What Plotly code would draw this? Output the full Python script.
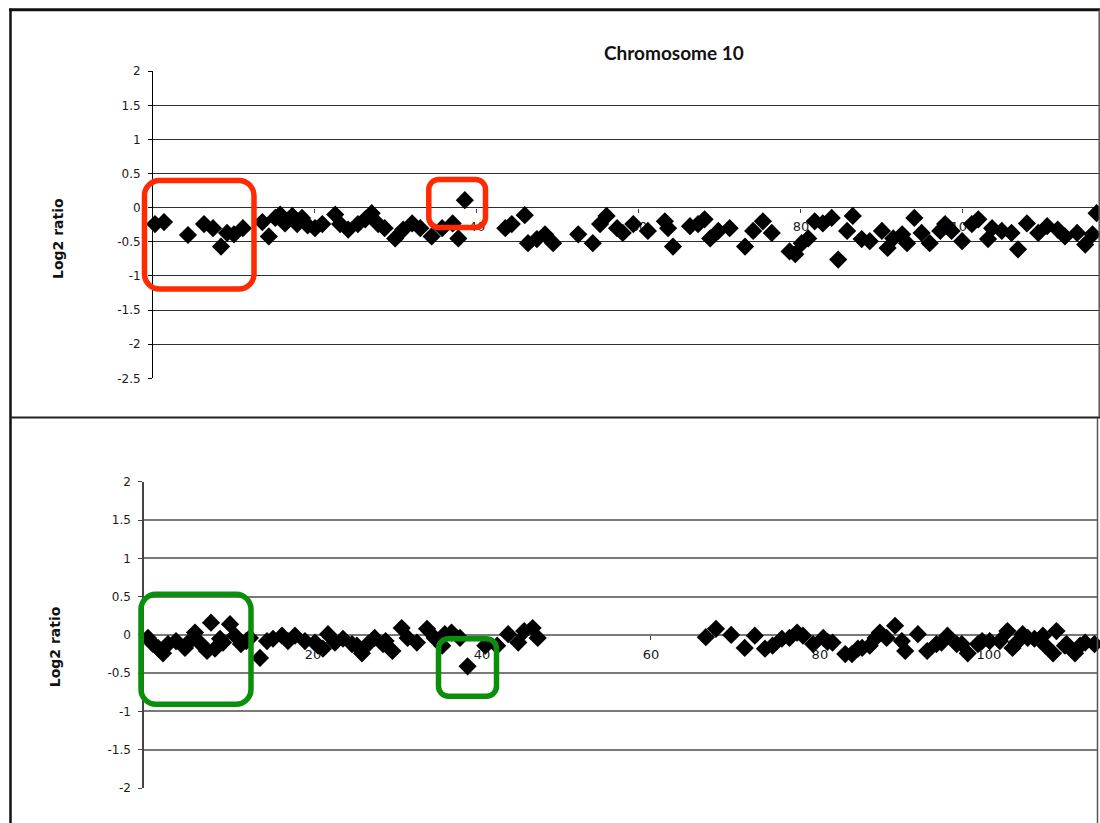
import plotly.graph_objects as go

W, H = 1100, 823

chart_title = "Chromosome 10"
y_title = "Log2 ratio"
x_tick_vals = [20, 40, 60, 80, 100]
x_tick_text = ["20", "40", "60", "80", "100"]
top_y_ticks = [2, 1.5, 1, 0.5, 0, -0.5, -1, -1.5, -2, -2.5]
bottom_y_ticks = [2, 1.5, 1, 0.5, 0, -0.5, -1, -1.5, -2]

# top panel (sample 1)
top_pos = [0.25, 1.36, 4.32, 6.30, 7.41, 8.40, 9.14, 10.0, 11.1, 13.5,
           14.3, 15.1, 15.7, 16.3, 17.2, 17.8, 18.4, 19.1, 20.0, 20.9,
           22.5, 23.1, 24.1, 25.3, 26.2, 27.0, 27.8, 28.6, 29.9, 30.9,
           32.0, 33.0, 34.4, 35.7, 37.0, 37.7, 38.5, 43.5, 44.3, 45.9,
           46.3, 47.4, 48.4, 49.4, 52.5, 54.3, 55.2, 56.0, 57.3, 58.0,
           59.3, 61.1, 63.2, 63.6, 64.2, 66.3, 67.3, 68.1, 68.8, 69.8,
           71.2, 73.1, 74.1, 75.3, 76.4, 78.6, 79.3, 80.1, 80.9, 81.7,
           82.7, 83.8, 84.6, 85.7, 86.4, 87.5, 88.5, 90.0, 90.7, 91.4,
           92.5, 93.1, 94.0, 94.9, 95.9, 97.2, 97.8, 98.6, 99.9, 101.1,
           101.9, 103.1, 103.6, 104.8, 106.0, 106.8, 107.9, 109.3, 110.4, 111.7,
           112.6, 114.1, 115.1, 116.0, 116.5]
top_val = [-0.24, -0.21, -0.40, -0.24, -0.30, -0.57, -0.37, -0.39, -0.30, -0.21,
           -0.42, -0.15, -0.10, -0.23, -0.12, -0.24, -0.15, -0.26, -0.30, -0.24,
           -0.10, -0.24, -0.32, -0.24, -0.17, -0.08, -0.24, -0.30, -0.45, -0.32,
           -0.23, -0.30, -0.42, -0.30, -0.23, -0.45, 0.11, -0.30, -0.24, -0.11,
           -0.52, -0.46, -0.39, -0.52, -0.39, -0.52, -0.24, -0.12, -0.30, -0.37,
           -0.24, -0.34, -0.20, -0.30, -0.57, -0.27, -0.24, -0.17, -0.45, -0.34,
           -0.30, -0.57, -0.34, -0.20, -0.37, -0.64, -0.68, -0.52, -0.45, -0.20,
           -0.23, -0.15, -0.76, -0.34, -0.12, -0.46, -0.49, -0.34, -0.59, -0.45,
           -0.39, -0.52, -0.15, -0.37, -0.52, -0.34, -0.24, -0.34, -0.49, -0.24,
           -0.17, -0.46, -0.30, -0.34, -0.37, -0.61, -0.23, -0.37, -0.27, -0.32,
           -0.42, -0.37, -0.54, -0.39, -0.08]

# bottom panel (sample 2)
bottom_pos = [-0.36, 0.47, 1.07, 1.66, 2.25, 2.84, 3.79, 4.85, 5.44, 6.04,
              6.75, 7.46, 7.93, 8.40, 9.0, 9.35, 10.18, 10.77, 11.48, 12.1,
              12.54, 13.73, 14.56, 15.27, 16.33, 17.04, 17.87, 19.05, 20.24, 20.6,
              21.18, 21.78, 22.60, 23.55, 24.62, 25.2, 25.8, 26.5, 27.3, 28.3,
              28.6, 29.4, 30.5, 31.2, 32.3, 33.5, 34.4, 35.3, 35.6, 36.4,
              37.4, 38.3, 40.4, 41.8, 43.1, 44.3, 45.0, 46.0, 46.6, 66.5,
              67.7, 69.5, 71.1, 72.3, 73.5, 74.4, 75.5, 76.4, 77.3, 78.0,
              79.2, 80.4, 80.9, 81.5, 83.0, 83.8, 84.5, 85.0, 85.9, 86.6,
              87.1, 87.9, 88.9, 89.7, 90.1, 91.6, 92.7, 93.8, 94.4, 95.1,
              96.2, 96.8, 97.5, 98.7, 99.2, 100.1, 101.3, 102.2, 102.8, 103.3,
              104.0, 104.6, 105.4, 106.4, 106.7, 107.6, 108.0, 109.0, 109.2, 110.2,
              110.8, 111.4, 112.5, 112.9]
bottom_val = [-0.09, -0.04, -0.12, -0.17, -0.24, -0.12, -0.08, -0.17, -0.08, 0.03,
              -0.12, -0.21, 0.16, -0.18, -0.05, -0.10, 0.14, -0.01, -0.12, -0.08,
              -0.04, -0.30, -0.08, -0.05, -0.01, -0.08, -0.01, -0.08, -0.10, -0.14,
              -0.18, 0.01, -0.10, -0.05, -0.12, -0.14, -0.24, -0.12, -0.04, -0.12,
              -0.08, -0.21, 0.09, -0.04, -0.10, 0.08, -0.04, -0.14, 0.01, 0.03,
              -0.04, -0.41, -0.14, -0.14, 0.01, -0.10, 0.05, 0.09, -0.04, -0.03,
              0.08, 0.00, -0.17, -0.01, -0.18, -0.14, -0.05, -0.04, 0.03, -0.01,
              -0.12, -0.04, -0.09, -0.10, -0.25, -0.25, -0.18, -0.17, -0.14, -0.04,
              0.03, -0.04, 0.12, -0.08, -0.21, 0.01, -0.21, -0.12, -0.10, -0.01,
              -0.12, -0.12, -0.24, -0.12, -0.08, -0.08, -0.08, 0.05, -0.17, -0.10,
              0.01, -0.04, -0.05, -0.01, -0.14, -0.24, 0.05, -0.14, -0.12, -0.24,
              -0.14, -0.10, -0.12, -0.14]

# vertical correction measured from the rendered photo
V_OFF, V_SCALE = 6.16, 0.9824


def fx(x):
    return x / W


def fy(y):
    yd = (y - V_OFF) / V_SCALE
    return 1 - yd / H


def fmt(v):
    return "%g" % v


# panel geometry (pixels in the target picture)
top_xdom = [fx(153), fx(1099)]
top_ydom = [fy(377.3), fy(70.3)]
top_xrange = [0, 116.8]
top_yrange = [-2.5, 2]
bot_xdom = [fx(144), fx(1097)]
bot_ydom = [fy(786.7), fy(480.7)]
bot_xrange = [0, 112.8]
bot_yrange = [-2, 2]


def zero_pos(dom, rng):
    return dom[0] + (0 - rng[0]) / (rng[1] - rng[0]) * (dom[1] - dom[0])


marker = dict(symbol="diamond", size=14, color="black", line=dict(width=0))

fig = go.Figure()
fig.add_trace(go.Scatter(x=top_pos, y=top_val, mode="markers", marker=marker,
                         xaxis="x", yaxis="y", cliponaxis=False, showlegend=False,
                         hoverinfo="x+y"))
fig.add_trace(go.Scatter(x=bottom_pos, y=bottom_val, mode="markers", marker=marker,
                         xaxis="x2", yaxis="y2", cliponaxis=False, showlegend=False,
                         hoverinfo="x+y"))

tick_font = dict(family="DejaVu Sans, Verdana, sans-serif", size=12, color="#1a1a1a")
xtick_font = dict(family="DejaVu Sans, Verdana, sans-serif", size=13, color="#1a1a1a")

xcommon = dict(showgrid=False, zeroline=False, showline=False, ticks="outside",
               ticklen=4, tickwidth=1, tickcolor="#444", tickvals=x_tick_vals,
               ticktext=x_tick_text, tickfont=xtick_font, layer="below traces",
               ticklabelstandoff=3, fixedrange=True)

fig.update_layout(
    width=W, height=H, autosize=False,
    margin=dict(l=0, r=0, t=0, b=0),
    paper_bgcolor="white", plot_bgcolor="white",
    showlegend=False,
    xaxis=dict(domain=top_xdom, range=top_xrange, anchor="free",
               position=zero_pos(top_ydom, top_yrange), **xcommon),
    yaxis=dict(domain=top_ydom, range=top_yrange, anchor="x",
               showgrid=True, gridcolor="#2e2e2e", gridwidth=1,
               zeroline=False, showline=True, linecolor="black", linewidth=1,
               ticks="outside", ticklen=4, tickcolor="black",
               tickvals=top_y_ticks, ticktext=[fmt(v) for v in top_y_ticks],
               tickfont=tick_font, ticklabelstandoff=5, fixedrange=True),
    xaxis2=dict(domain=bot_xdom, range=bot_xrange, anchor="free",
                position=zero_pos(bot_ydom, bot_yrange), **xcommon),
    yaxis2=dict(domain=bot_ydom, range=bot_yrange, anchor="x2",
                showgrid=True, gridcolor="#7a7a7a", gridwidth=1.5,
                zeroline=False, showline=True, linecolor="#444", linewidth=1.5,
                ticks="outside", ticklen=4, tickcolor="#444",
                tickvals=bottom_y_ticks, ticktext=[fmt(v) for v in bottom_y_ticks],
                tickfont=tick_font, ticklabelstandoff=5, fixedrange=True),
)

shapes = []


def pline(x0, y0, x1, y1, w, c):
    shapes.append(dict(type="line", xref="paper", yref="paper",
                       x0=fx(x0), y0=fy(y0), x1=fx(x1), y1=fy(y1),
                       line=dict(color=c, width=w)))


def rrect(x0, y0, x1, y1, r, color, w):
    k = 0.5523 * r

    def p(x, y):
        return "%.5f,%.5f" % (fx(x), fy(y))
    path = (
        "M" + p(x0 + r, y0) +
        " L" + p(x1 - r, y0) +
        " C" + p(x1 - r + k, y0) + " " + p(x1, y0 + r - k) + " " + p(x1, y0 + r) +
        " L" + p(x1, y1 - r) +
        " C" + p(x1, y1 - r + k) + " " + p(x1 - r + k, y1) + " " + p(x1 - r, y1) +
        " L" + p(x0 + r, y1) +
        " C" + p(x0 + r - k, y1) + " " + p(x0, y1 - r + k) + " " + p(x0, y1 - r) +
        " L" + p(x0, y0 + r) +
        " C" + p(x0, y0 + r - k) + " " + p(x0 + r - k, y0) + " " + p(x0 + r, y0) +
        " Z"
    )
    shapes.append(dict(type="path", xref="paper", yref="paper", path=path,
                       line=dict(color=color, width=w), fillcolor="rgba(0,0,0,0)",
                       layer="above"))


# outer frames of the two stacked images
pline(9, 9, 1100, 9, 3, "#111111")
pline(10.5, 8, 10.5, 830, 2.5, "#111111")
pline(10, 416.5, 1100, 416.5, 2, "#222222")
pline(1099.2, 9, 1099.2, 416, 1.5, "#555555")
pline(1097.5, 417, 1097.5, 830, 1.5, "#555555")

# highlight boxes
rrect(144.5, 179.5, 254, 288, 15, "#ff2a00", 5.5)
rrect(428.8, 178.5, 485.5, 226.5, 10, "#ff2a00", 5.5)
rrect(141, 593, 251, 703, 15, "#0a8f0a", 5.5)
rrect(438.5, 637.5, 496.5, 695, 10, "#0a8f0a", 5.5)

fig.update_layout(shapes=shapes)

annotations = [
    dict(text="<b>" + chart_title + "</b>", x=fx(673.5), y=fy(52), xref="paper", yref="paper",
         showarrow=False, xanchor="center", yanchor="middle",
         font=dict(family="Lato, Carlito, sans-serif", size=19, color="#111")),
    dict(text="<b>" + y_title + "</b>", x=fx(58), y=fy(238), xref="paper", yref="paper",
         showarrow=False, xanchor="center", yanchor="middle", textangle=-90,
         font=dict(family="DejaVu Sans, Verdana, sans-serif", size=14, color="#111")),
    dict(text="<b>" + y_title + "</b>", x=fx(55), y=fy(646), xref="paper", yref="paper",
         showarrow=False, xanchor="center", yanchor="middle", textangle=-90,
         font=dict(family="DejaVu Sans, Verdana, sans-serif", size=14, color="#111")),
]
fig.update_layout(annotations=annotations)

page_fix = (
    "document.documentElement.style.margin='0';"
    "document.documentElement.style.padding='0';"
    "document.documentElement.style.overflow='hidden';"
    "document.body.style.margin='0';"
    "document.body.style.padding='0';"
    "document.body.style.overflow='hidden';"
    "var gd=document.getElementById('{plot_id}');"
    "gd.style.position='fixed';gd.style.left='0px';gd.style.top='0px';"
    "gd.style.margin='0';"
)

fig.write_html(
    "out.html",
    config={"displayModeBar": False},
    post_script=page_fix,
)
